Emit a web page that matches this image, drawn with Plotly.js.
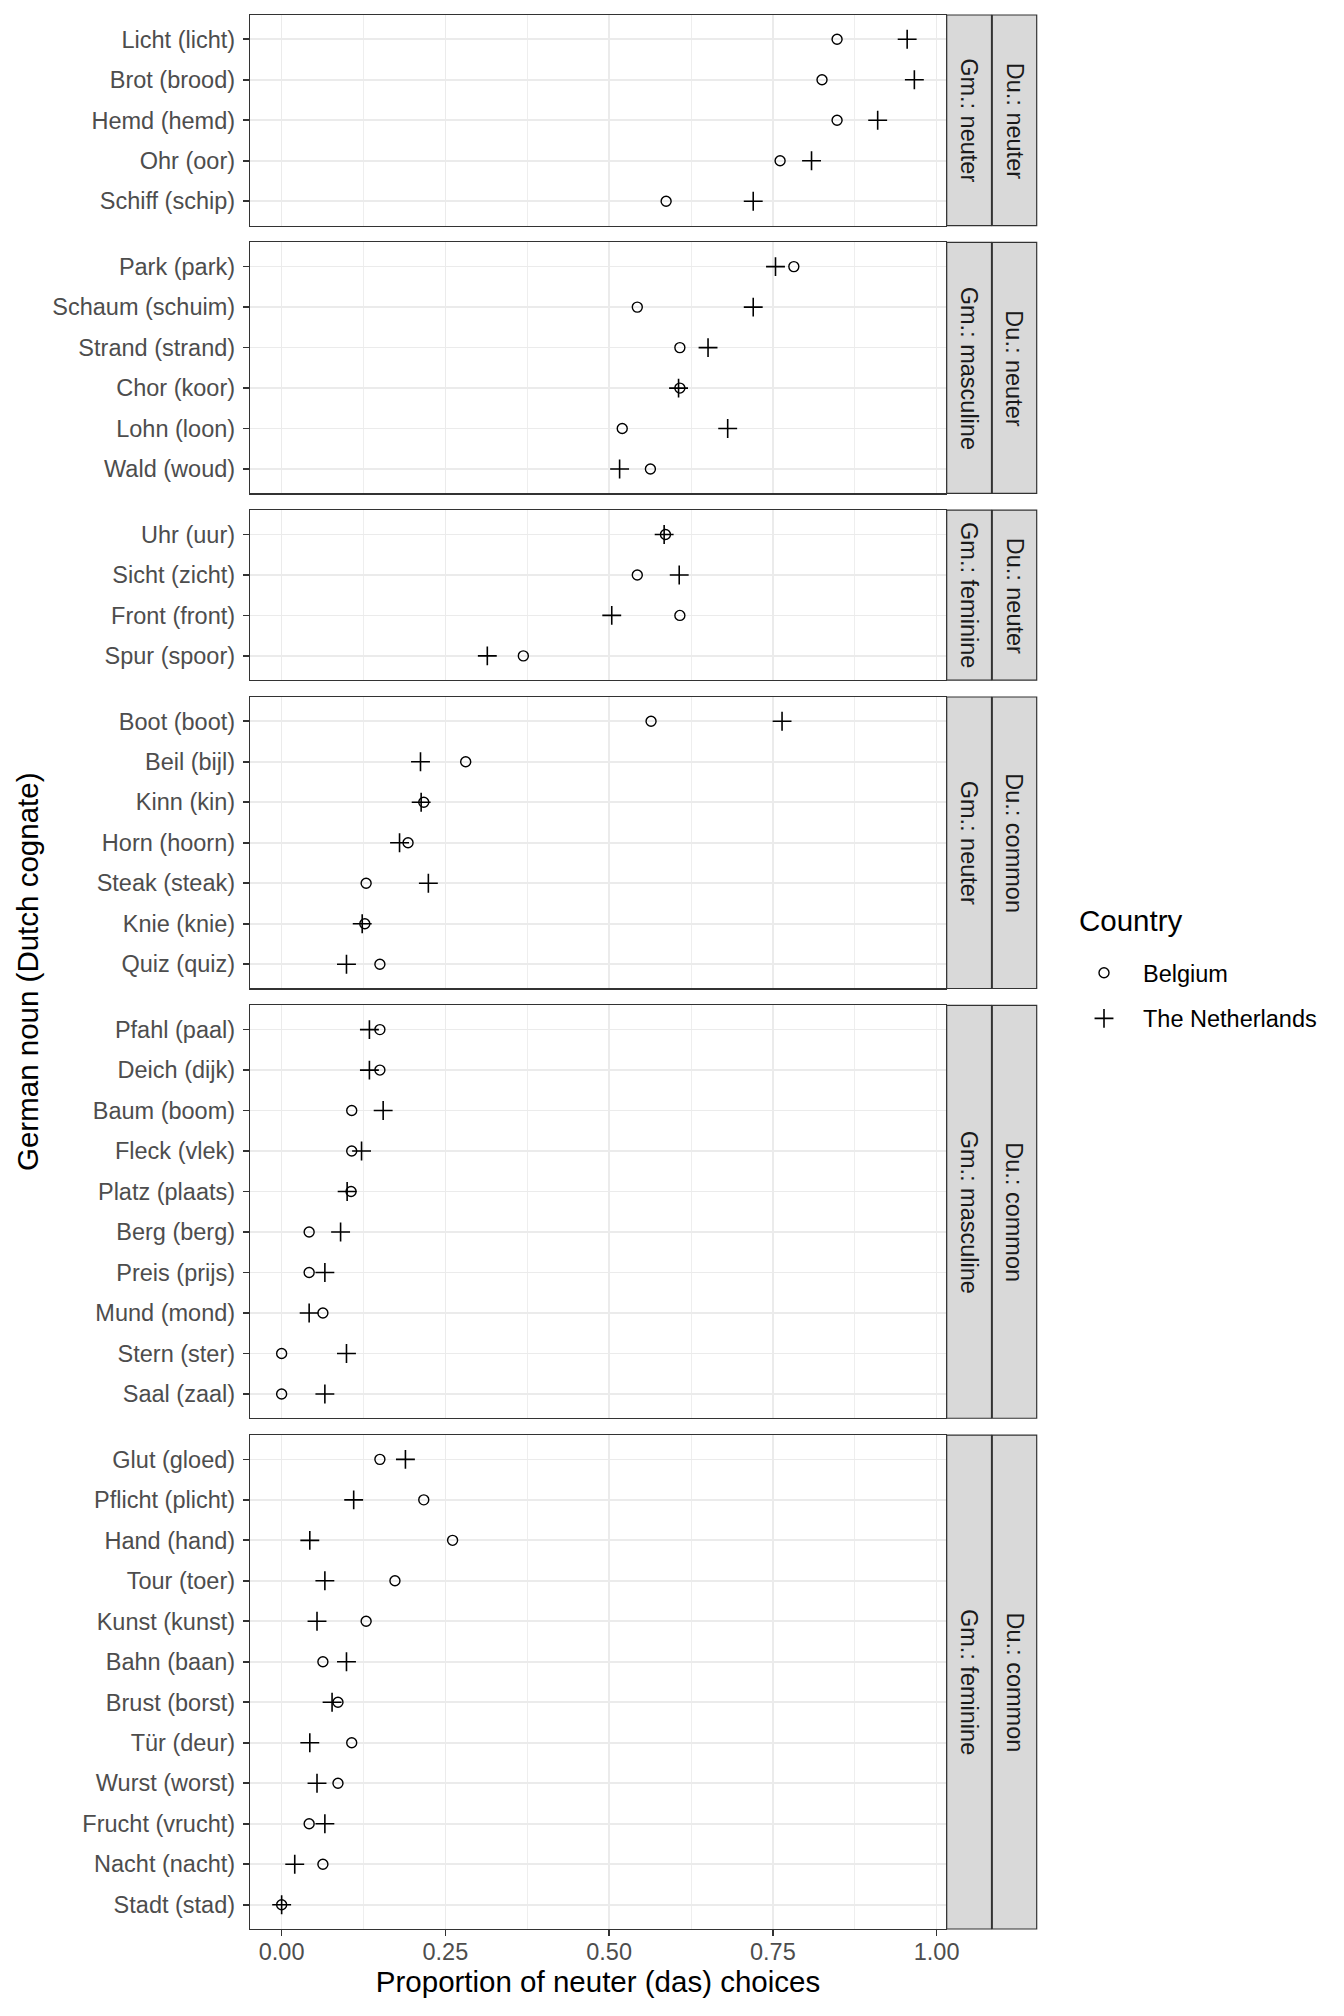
<!DOCTYPE html>
<html>
<head>
<meta charset="utf-8">
<script src="https://cdn.plot.ly/plotly-3.0.1.min.js"></script>
<style>html,body{margin:0;padding:0;background:#fff;}#chart{width:1344px;height:2016px;}</style>
</head>
<body>
<div id="chart"></div>
<script>
// ---- data (top-to-bottom order within each panel) ----
const gmGender = ["neuter", "masculine", "feminine", "neuter", "masculine", "feminine"];
const duGender = ["neuter", "neuter", "neuter", "common", "common", "common"];

const nouns1 = ["Licht (licht)", "Brot (brood)", "Hemd (hemd)", "Ohr (oor)", "Schiff (schip)"];
const nouns2 = ["Park (park)", "Schaum (schuim)", "Strand (strand)", "Chor (koor)", "Lohn (loon)", "Wald (woud)"];
const nouns3 = ["Uhr (uur)", "Sicht (zicht)", "Front (front)", "Spur (spoor)"];
const nouns4 = ["Boot (boot)", "Beil (bijl)", "Kinn (kin)", "Horn (hoorn)", "Steak (steak)", "Knie (knie)", "Quiz (quiz)"];
const nouns5 = ["Pfahl (paal)", "Deich (dijk)", "Baum (boom)", "Fleck (vlek)", "Platz (plaats)", "Berg (berg)", "Preis (prijs)", "Mund (mond)", "Stern (ster)", "Saal (zaal)"];
const nouns6 = ["Glut (gloed)", "Pflicht (plicht)", "Hand (hand)", "Tour (toer)", "Kunst (kunst)", "Bahn (baan)", "Brust (borst)", "Tür (deur)", "Wurst (worst)", "Frucht (vrucht)", "Nacht (nacht)", "Stadt (stad)"];

const belgium1 = [0.848, 0.825, 0.848, 0.761, 0.587];
const belgium2 = [0.782, 0.543, 0.608, 0.608, 0.520, 0.563];
const belgium3 = [0.586, 0.543, 0.608, 0.369];
const belgium4 = [0.564, 0.281, 0.217, 0.193, 0.129, 0.127, 0.150];
const belgium5 = [0.150, 0.150, 0.107, 0.107, 0.106, 0.042, 0.042, 0.063, 0.0, 0.0];
const belgium6 = [0.150, 0.217, 0.261, 0.173, 0.129, 0.063, 0.086, 0.107, 0.086, 0.042, 0.063, 0.0];

const netherlands1 = [0.955, 0.966, 0.910, 0.809, 0.720];
const netherlands2 = [0.754, 0.720, 0.651, 0.606, 0.681, 0.516];
const netherlands3 = [0.584, 0.607, 0.504, 0.314];
const netherlands4 = [0.764, 0.212, 0.213, 0.180, 0.224, 0.123, 0.099];
const netherlands5 = [0.134, 0.134, 0.155, 0.122, 0.100, 0.090, 0.066, 0.042, 0.099, 0.066];
const netherlands6 = [0.189, 0.110, 0.043, 0.066, 0.054, 0.099, 0.077, 0.043, 0.054, 0.066, 0.020, 0.0];

const xTickVals = [0, 0.25, 0.5, 0.75, 1.0];
const xTickText = ["0.00", "0.25", "0.50", "0.75", "1.00"];
const xMinorVals = [0.125, 0.375, 0.625, 0.875];

const nounsByPanel = [nouns1, nouns2, nouns3, nouns4, nouns5, nouns6];
const belgiumByPanel = [belgium1, belgium2, belgium3, belgium4, belgium5, belgium6];
const netherlandsByPanel = [netherlands1, netherlands2, netherlands3, netherlands4, netherlands5, netherlands6];

// ---- layout geometry (pixels) ----
const W = 1344, H = 2016;
const ML = 250, MR = 307, MT = 15, MB = 87;
const PW = W - ML - MR, PH = H - MT - MB;
const px2x = p => (p - ML) / PW;
const py2y = p => (H - MB - p) / PH;
const panelRight = 946;
const panelGap = 16.8;
const totalUnits = nounsByPanel.reduce((s, n) => s + n.length + 0.2, 0);
const unitPx = (PH - panelGap * (nounsByPanel.length - 1)) / totalUnits;

const FONT = "Liberation Sans, Arial, Helvetica, sans-serif";
const SMALL = 23.5, BIG = 29.5;
const dataMax = Math.max(...belgiumByPanel.flat(), ...netherlandsByPanel.flat());
const dataMin = Math.min(...belgiumByPanel.flat(), ...netherlandsByPanel.flat());
const xPad = (dataMax - dataMin) * 0.05;
const xRange = [dataMin - xPad, dataMax + xPad];

const traces = [];
const layout = {
  width: W, height: H,
  margin: {l: ML, r: MR, t: MT, b: MB},
  paper_bgcolor: "#ffffff",
  plot_bgcolor: "#ffffff",
  font: {family: FONT, color: "#000000"},
  showlegend: true,
  legend: {
    x: px2x(1065), y: py2y(951), xanchor: "left", yanchor: "top",
    font: {size: SMALL, color: "#000000", family: FONT},
    bgcolor: "rgba(0,0,0,0)",
    tracegroupgap: 12,
    traceorder: "grouped",
    itemwidth: 68
  },
  shapes: [],
  annotations: []
};

let panelTop = MT;
nounsByPanel.forEach((nouns, i) => {
  const n = nouns.length;
  const h = (n + 0.2) * unitPx;
  const ax = i === 0 ? "" : String(i + 1);
  const isLast = i === nounsByPanel.length - 1;
  const dom = [py2y(panelTop + h), py2y(panelTop)];

  layout["xaxis" + ax] = {
    domain: [0, px2x(panelRight)],
    anchor: "y" + ax,
    range: xRange,
    tickmode: "array",
    tickvals: xTickVals,
    ticktext: xTickText,
    showticklabels: isLast,
    ticks: isLast ? "outside" : "",
    ticklen: 6, tickwidth: 1.7, tickcolor: "#333333",
    ticklabelstandoff: -4,
    tickfont: {size: SMALL, color: "#4D4D4D", family: FONT},
    showgrid: true, gridcolor: "#EBEBEB", gridwidth: 1.7,
    minor: {tickvals: xMinorVals, showgrid: true, gridcolor: "#EBEBEB", gridwidth: 0.85, ticks: ""},
    zeroline: false,
    showline: true, mirror: true, linecolor: "#333333", linewidth: 1.2,
    fixedrange: true
  };
  if (isLast) {
    layout["xaxis" + ax].title = {text: "Proportion of neuter (das) choices", font: {size: BIG, color: "#000000", family: FONT}, standoff: 7};
  }
  layout["yaxis" + ax] = {
    domain: dom,
    anchor: "x" + ax,
    type: "category",
    categoryorder: "array",
    categoryarray: nouns,
    range: [n - 0.4, -0.6],
    ticks: "outside", ticklen: 6, tickwidth: 1.7, tickcolor: "#333333",
    ticklabelstandoff: 3,
    tickfont: {size: SMALL, color: "#4D4D4D", family: FONT},
    showgrid: true, gridcolor: "#EBEBEB", gridwidth: 1.7,
    zeroline: false,
    showline: true, mirror: true, linecolor: "#333333", linewidth: 1.2,
    fixedrange: true
  };

  traces.push({
    type: "scatter", mode: "markers",
    x: belgiumByPanel[i], y: nouns,
    xaxis: "x" + ax, yaxis: "y" + ax,
    name: "Belgium", legendgroup: "BE", showlegend: i === 0,
    marker: {symbol: "circle-open", size: 10, color: "#000000", line: {width: 1.4, color: "#000000"}},
    hoverinfo: "x+y+name"
  });
  traces.push({
    type: "scatter", mode: "markers",
    x: netherlandsByPanel[i], y: nouns,
    xaxis: "x" + ax, yaxis: "y" + ax,
    name: "The Netherlands", legendgroup: "NL", showlegend: i === 0,
    marker: {symbol: "cross-thin-open", size: 13.5, color: "#000000", line: {width: 1.6, color: "#000000"}},
    hoverinfo: "x+y+name"
  });

  // strips
  const s1 = [946.7, 991.5], s2 = [992.3, 1036.7];
  [[s1, "Gm.: " + gmGender[i]], [s2, "Du.: " + duGender[i]]].forEach(([s, label]) => {
    layout.shapes.push({
      type: "rect", xref: "paper", yref: "paper",
      x0: px2x(s[0]), x1: px2x(s[1]), y0: dom[0], y1: dom[1],
      fillcolor: "#D9D9D9", line: {color: "#333333", width: 1.2}, layer: "above"
    });
    layout.annotations.push({
      xref: "paper", yref: "paper",
      x: px2x((s[0] + s[1]) / 2), y: (dom[0] + dom[1]) / 2,
      text: label, textangle: 90, showarrow: false,
      xanchor: "center", yanchor: "middle",
      font: {size: SMALL, color: "#1A1A1A", family: FONT}
    });
  });

  panelTop += h + panelGap;
});

layout.annotations.push({
  xref: "paper", yref: "paper",
  x: px2x(27), y: py2y(972),
  text: "German noun (Dutch cognate)", textangle: -90, showarrow: false,
  xanchor: "center", yanchor: "middle",
  font: {size: BIG, color: "#000000", family: FONT}
});
layout.annotations.push({
  xref: "paper", yref: "paper",
  x: px2x(1077), y: py2y(920),
  text: "Country", showarrow: false,
  xanchor: "left", yanchor: "middle",
  font: {size: BIG, color: "#000000", family: FONT}
});

Plotly.newPlot("chart", traces, layout, {displayModeBar: false, staticPlot: true});
</script>
</body>
</html>
